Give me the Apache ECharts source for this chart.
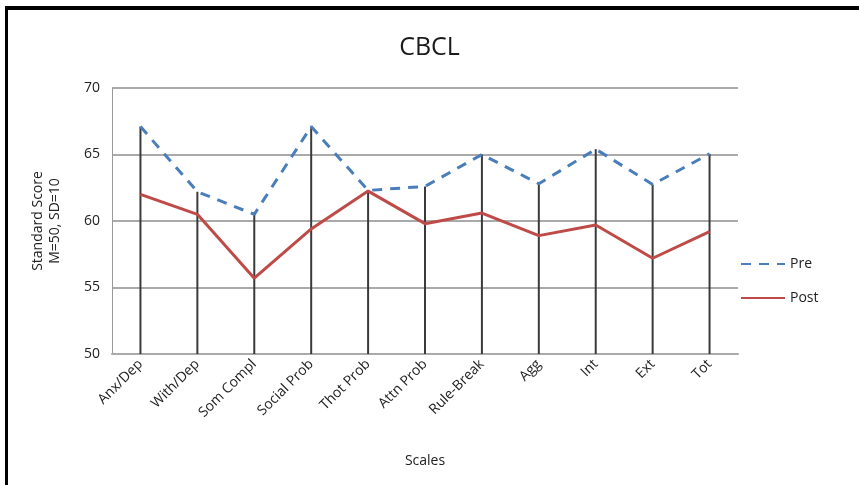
<!DOCTYPE html>
<html>
<head>
<meta charset="utf-8">
<script src="https://cdn.jsdelivr.net/npm/echarts@6/dist/echarts.min.js"></script>
<style>
  html, body { margin: 0; padding: 0; background: #fff; }
  #wrap { position: relative; width: 859px; height: 485px; }
  #chart { width: 859px; height: 485px; }
  #frame {
    position: absolute; left: 5px; top: 6px; right: 0; bottom: 0;
    border-top: 4px solid #000; border-left: 3px solid #000;
    pointer-events: none;
  }
</style>
</head>
<body>
<div id="wrap">
  <div id="chart"></div>
  <div id="frame"></div>
</div>
<script>
const categories = ["Anx/Dep", "With/Dep", "Som Compl", "Social Prob", "Thot Prob",
  "Attn Prob", "Rule-Break", "Agg", "Int", "Ext", "Tot"];
const preScores = [67.1, 62.2, 60.5, 67.1, 62.3, 62.6, 65.0, 62.8, 65.4, 62.75, 65.05];
const postScores = [62.0, 60.5, 55.7, 59.4, 62.25, 59.8, 60.6, 58.9, 59.7, 57.2, 59.2];
const yTicks = [50, 55, 60, 65, 70];

// drop line top = higher of the two series at each category
const dropTops = preScores.map((v, i) => Math.max(v, postScores[i]));

const font = "'Open Sans', 'Liberation Sans', sans-serif";

var chart = echarts.init(document.getElementById("chart"));
const option = {
  animation: false,
  title: {
    text: "CBCL",
    left: "center",
    top: 30,
    textStyle: { fontFamily: font, fontSize: 25, fontWeight: "normal", color: "#1a1a1a" },
  },
  legend: {
    orient: "vertical",
    left: 735,
    top: 252,
    itemWidth: 44,
    itemHeight: 10,
    itemGap: 20,
    data: ["Pre", "Post"],
    itemStyle: { opacity: 0 },
    textStyle: { fontFamily: font, fontSize: 14, color: "#222" },
  },
  grid: { left: 112, right: 121, top: 88, bottom: 131 },
  xAxis: {
    type: "category",
    data: categories,
    name: "Scales",
    nameLocation: "middle",
    nameGap: 100,
    nameTextStyle: { fontFamily: font, fontSize: 14, color: "#222" },
    axisTick: { show: false },
    axisLine: { show: true, lineStyle: { color: "#aaa", width: 2 } },
    axisLabel: {
      rotate: 45,
      interval: 0,
      margin: 8,
      fontFamily: font,
      fontSize: 14,
      color: "#222",
    },
  },
  yAxis: {
    type: "value",
    min: 50,
    max: 70,
    interval: 5,
    name: "Standard Score\nM=50, SD=10",
    nameLocation: "middle",
    nameGap: 48,
    nameRotate: 90,
    nameTextStyle: { fontFamily: font, fontSize: 14, color: "#222", lineHeight: 17 },
    axisLine: { show: true, lineStyle: { color: "#999", width: 1 } },
    axisTick: { show: false },
    axisLabel: {
      margin: 12,
      fontFamily: font,
      fontSize: 14,
      color: "#222",
      formatter: (v) => (yTicks.includes(v) ? String(v) : ""),
    },
    splitLine: { show: true, lineStyle: { color: "#aaa", width: 2 } },
  },
  series: [
    {
      name: "drops",
      type: "custom",
      silent: true,
      z: 1,
      data: dropTops.map((v, i) => [i, v]),
      renderItem: (params, api) => {
        const top = api.coord([api.value(0), api.value(1)]);
        const base = api.coord([api.value(0), 50]);
        return {
          type: "line",
          shape: { x1: top[0], y1: top[1], x2: base[0], y2: base[1] },
          style: { stroke: "#3a3a3a", lineWidth: 2 },
        };
      },
    },
    {
      name: "Pre",
      type: "line",
      data: preScores,
      symbol: "none",
      z: 3,
      lineStyle: { color: "#4a7ebb", width: 3, type: [10, 8] },
      itemStyle: { color: "#4a7ebb" },
    },
    {
      name: "Post",
      type: "line",
      data: postScores,
      symbol: "none",
      z: 2,
      lineStyle: { color: "#be4b48", width: 3 },
      itemStyle: { color: "#be4b48" },
    },
  ],
};
chart.setOption(option);
</script>
</body>
</html>
